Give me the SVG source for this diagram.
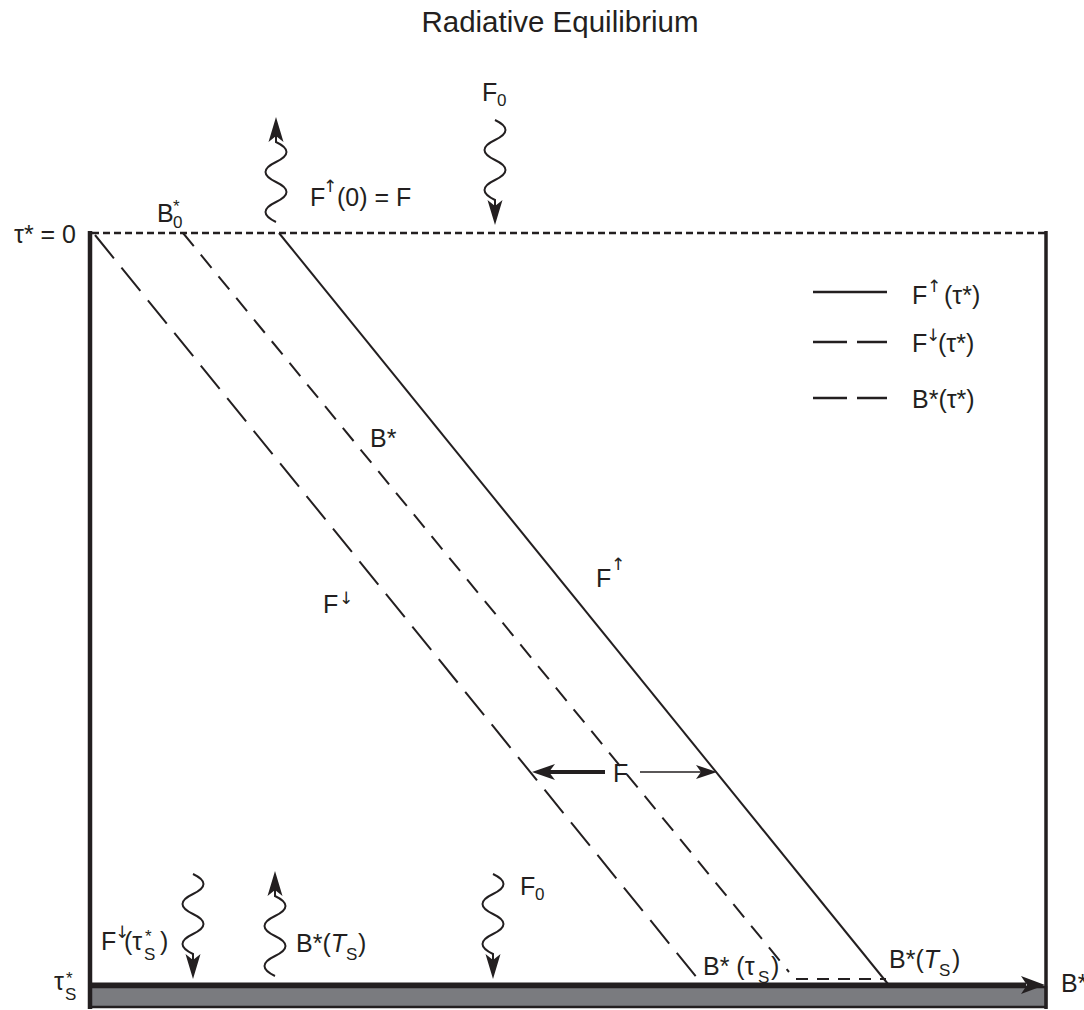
<svg xmlns="http://www.w3.org/2000/svg" xmlns:xlink="http://www.w3.org/1999/xlink" width="1084" height="1010" viewBox="0 0 1084 1010">
<style>
text{font-family:"Liberation Sans","DejaVu Sans",Arial,sans-serif;fill:#231f20;font-size:25px}
.title{font-size:29.5px}
.sm{font-size:17px}
.ar{font-size:17px;font-family:"DejaVu Sans","Liberation Sans",sans-serif}
.ln{stroke:#231f20;fill:none}
.hd{fill:#231f20;stroke:none}
</style>
<defs>
<g id="wavy">
<path class="ln" stroke-width="2" d="M0,0 Q21,10 0,20 T0,40 T0,60 T0,80 L0,86"/>
<path class="hd" d="M0,105 L-7.5,80 L0,86 L7.5,80 Z"/>
</g>
</defs>
<text class="title" x="560" y="32" text-anchor="middle">Radiative Equilibrium</text>
<g id="frame">
<rect x="90" y="987" width="956" height="20" fill="#7a7b7f" stroke="#231f20" stroke-width="2.5"/>
<line class="ln" x1="90" y1="231" x2="90" y2="1009" stroke-width="4.5"/>
<line class="ln" x1="1046" y1="231" x2="1046" y2="1009" stroke-width="3.5"/>
<line class="ln" x1="92" y1="233" x2="1046" y2="233" stroke-width="2.5" stroke-dasharray="7 4"/>
<line class="ln" x1="90" y1="985" x2="1026" y2="985" stroke-width="5"/>
<path class="hd" d="M1045,985 L1021,976 L1027,985 L1021,994 Z"/>
</g>
<g id="connectors">
<line class="ln" x1="279" y1="233" x2="888" y2="984" stroke-width="2"/>
<line class="ln" x1="183" y1="233" x2="789" y2="972" stroke-width="2" stroke-dasharray="17 11"/>
<line class="ln" x1="95" y1="235" x2="702" y2="984" stroke-width="2" stroke-dasharray="30 12"/>
<line class="ln" x1="796" y1="979" x2="886" y2="979" stroke-width="2" stroke-dasharray="12 9"/>
<line class="ln" x1="605" y1="772" x2="548" y2="772" stroke-width="4"/>
<path class="hd" d="M532,772 L555,764 L549,772 L555,780 Z"/>
<line class="ln" x1="640" y1="772" x2="702" y2="772" stroke-width="1.6"/>
<path class="hd" d="M717,772 L696,765 L701,772 L696,779 Z"/>
</g>
<g id="wave-top-up"><use xlink:href="#wavy" transform="translate(276,222) rotate(180)"/></g>
<g id="wave-top-down"><use xlink:href="#wavy" transform="translate(495,120)"/></g>
<g id="wave-bot-fdown"><use xlink:href="#wavy" transform="translate(193,874)"/></g>
<g id="wave-bot-up"><use xlink:href="#wavy" transform="translate(275,976) rotate(180)"/></g>
<g id="wave-bot-f0"><use xlink:href="#wavy" transform="translate(493,874)"/></g>
<g id="labels">
<text x="14" y="243">τ* = 0</text>
<text x="157" y="222">B</text><text class="sm" x="173" y="228">0</text><text class="sm" x="173" y="212">*</text>
<text x="310" y="206">F</text><text class="ar" x="323" y="192">↑</text><text x="337" y="206">(0) = F</text>
<text x="482" y="101">F</text><text class="sm" x="497" y="106">0</text>
<text x="370" y="447">B*</text>
<text x="596" y="587">F</text><text class="ar" x="611" y="570">↑</text>
<text x="323" y="613">F</text><text class="ar" x="339" y="604">↓</text>
<text x="613" y="782">F</text>
<text x="101" y="950">F</text><text class="ar" x="115" y="938">↓</text><text x="124" y="950">(τ</text><text class="sm" x="144" y="960">S</text><text class="sm" x="145" y="942">*</text><text x="160" y="950">)</text>
<text x="296" y="952">B*(<tspan font-style="italic">T</tspan></text><text class="sm" x="346" y="960">S</text><text x="358" y="952">)</text>
<text x="520" y="895">F</text><text class="sm" x="535" y="900">0</text>
<text x="703" y="975">B* (τ</text><text class="sm" x="758" y="983">S</text><text x="771" y="975">)</text>
<text x="889" y="968">B*(<tspan font-style="italic">T</tspan></text><text class="sm" x="939" y="976">S</text><text x="952" y="968">)</text>
<text x="1061" y="992">B*</text>
<text x="54" y="990">τ</text><text class="sm" x="65" y="1000">S</text><text class="sm" x="66" y="984">*</text>
</g>
<g id="legend">
<line class="ln" x1="813" y1="292" x2="887" y2="292" stroke-width="2.5"/>
<line class="ln" x1="813" y1="342" x2="887" y2="342" stroke-width="2.5" stroke-dasharray="34 10"/>
<line class="ln" x1="813" y1="398" x2="887" y2="398" stroke-width="2.5" stroke-dasharray="34 10"/>
<text x="912" y="304">F</text><text class="ar" x="927" y="292">↑</text><text x="944" y="304">(τ*)</text>
<text x="912" y="352">F</text><text class="ar" x="926" y="341">↓</text><text x="938" y="352">(τ*)</text>
<text x="912" y="408">B*(τ*)</text>
</g>
</svg>
